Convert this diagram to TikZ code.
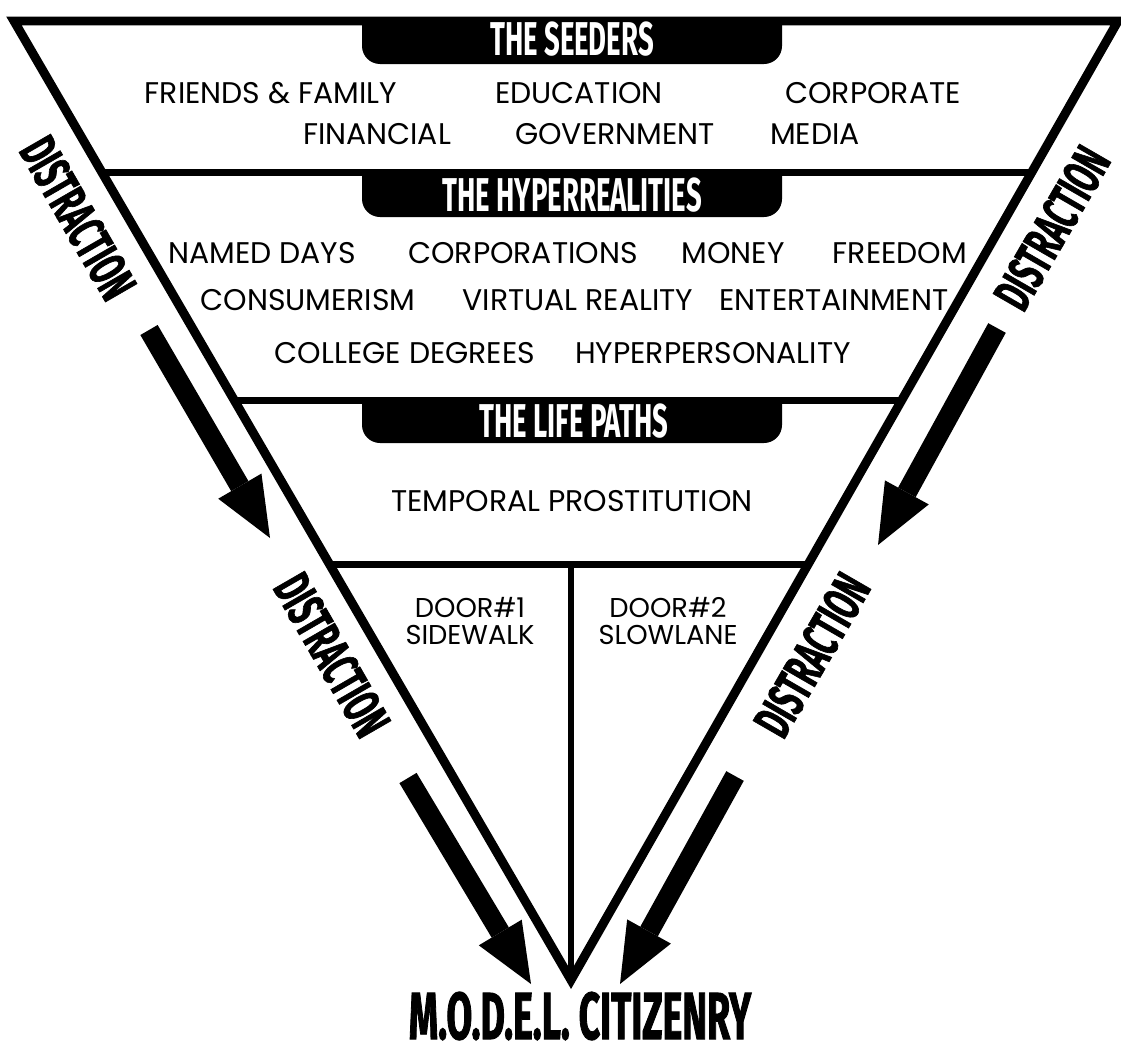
\documentclass[tikz,border=0pt]{standalone}
\usepackage{fontspec}
\setmainfont{Poppins}
\newfontfamily\condfont{Fira Sans}[FakeStretch=0.58]
\newfontfamily\heavyfont{Fira Sans}[FakeStretch=0.56,FakeBold=1.2]
\usetikzlibrary{arrows.meta,backgrounds,calc}

\begin{document}
\begin{tikzpicture}[x=0.02cm,y=-0.02cm,
  item/.style={font=\fontsize{17}{20}\selectfont},
  door/.style={font=\fontsize{15.5}{15.9}\selectfont,align=center},
  head/.style={font=\condfont\bfseries\fontsize{27}{30}\selectfont,text=white},
  distract/.style={font=\heavyfont\bfseries\fontsize{30}{32}\selectfont,inner sep=0pt},
  title/.style={font=\heavyfont\bfseries\fontsize{38}{42}\selectfont,inner sep=0pt},
  bigarrow/.style={line width=0.4cm,-{Triangle[width=1cm,length=1.2cm,line width=0pt]}}]
\useasboundingbox (0,0) rectangle (1121,1048);

\coordinate (tl) at (14,21);
\coordinate (tr) at (1118,21);
\coordinate (ap) at (571,980);

% level lines
\coordinate (s1) at ($(tl)!{151/959}!(ap)$);
\coordinate (s2) at ($(tr)!{151/959}!(ap)$);
\coordinate (h1) at ($(tl)!{379/959}!(ap)$);
\coordinate (h2) at ($(tr)!{379/959}!(ap)$);
\coordinate (l1) at ($(tl)!{544/959}!(ap)$);
\coordinate (l2) at ($(tr)!{544/959}!(ap)$);
\draw[line width=0.14cm] (s1) -- (s2);
\draw[line width=0.14cm] (h1) -- (h2);
\draw[line width=0.14cm] (l1) -- (l2);
\draw[line width=0.12cm] (ap |- l1) -- (ap);
\draw[line width=0.18cm,line join=miter] (tl) -- (tr) -- (ap) -- cycle;

% the seeders
\node[head] (seedhead) at (572,39) {THE SEEDERS};
\node[item] (friends) at (271,93) {FRIENDS \& FAMILY};
\node[item] (education) at (579,93) {EDUCATION};
\node[item] (corporate) at (873,93) {CORPORATE};
\node[item] (financial) at (377,134) {FINANCIAL};
\node[item] (government) at (615,134) {GOVERNMENT};
\node[item] (media) at (815,134) {MEDIA};

% the hyperrealities
\node[head] (hyperhead) at (572,195) {THE HYPERREALITIES};
\node[item] (nameddays) at (262,253) {NAMED DAYS};
\node[item] (corporations) at (523,253) {CORPORATIONS};
\node[item] (money) at (733,253) {MONEY};
\node[item] (freedom) at (900,253) {FREEDOM};
\node[item] (consumerism) at (308,300) {CONSUMERISM};
\node[item] (virtual) at (578,300) {VIRTUAL REALITY};
\node[item] (entertainment) at (834,300) {ENTERTAINMENT};
\node[item] (college) at (405,353) {COLLEGE DEGREES};
\node[item] (hyperperson) at (713,353) {HYPERPERSONALITY};

% the life paths
\node[head] (lifehead) at (574,421) {THE LIFE PATHS};
\node[item] (temporal) at (572,501) {TEMPORAL PROSTITUTION};
\node[door] (door1) at (470,621) {DOOR\#1\\SIDEWALK};
\node[door] (door2) at (668,621) {DOOR\#2\\SLOWLANE};

\node[title] (citizenry) at (580,1016) {M.O.D.E.L. CITIZENRY};

% distraction on both sides
\node[distract,rotate=-60] (dist1) at (78,218) {DISTRACTION};
\node[distract,rotate=-60] (dist2) at (332,655) {DISTRACTION};
\node[distract,rotate=60] (dist3) at (1052,228) {DISTRACTION};
\node[distract,rotate=60] (dist4) at (812,655) {DISTRACTION};

\coordinate (a1) at (149,330); \coordinate (b1) at (270,538);
\coordinate (a2) at (408,778); \coordinate (b2) at (531,984);
\coordinate (a3) at (997,328); \coordinate (b3) at (878,545);
\coordinate (a4) at (735,776); \coordinate (b4) at (620,984);
\draw[bigarrow] (a1) -- (b1);
\draw[bigarrow] (a2) -- (b2);
\draw[bigarrow] (a3) -- (b3);
\draw[bigarrow] (a4) -- (b4);

\begin{scope}[on background layer]
\fill[rounded corners=0.36cm] (362,21) -- (362,64) -- (782,64) -- (782,21);
\fill[rounded corners=0.36cm] (362,172) -- (362,217) -- (782,217) -- (782,172);
\fill[rounded corners=0.36cm] (362,400) -- (362,443) -- (782,443) -- (782,400);
\end{scope}
\end{tikzpicture}
\end{document}
